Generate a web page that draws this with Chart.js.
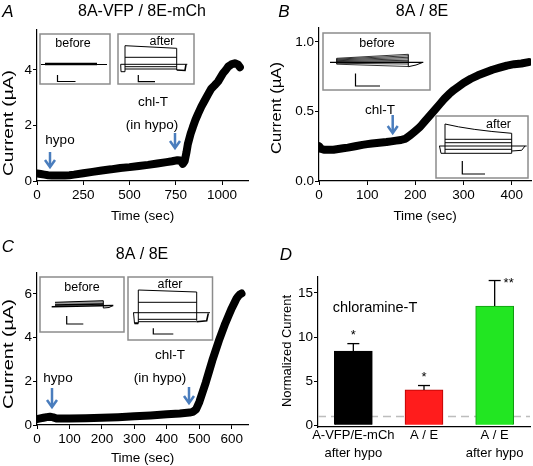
<!DOCTYPE html>
<html>
<head>
<meta charset="utf-8">
<script src="https://cdn.jsdelivr.net/npm/chart.js@4.4.1/dist/chart.umd.min.js"></script>
<style>
  html, body { margin: 0; padding: 0; background: #fff; }
  #wrap { position: relative; width: 533px; height: 466px; overflow: hidden; }
  canvas { position: absolute; }
</style>
</head>
<body>
<div id="wrap">
  <canvas id="cA" width="266" height="233" style="left:0;top:0"></canvas>
  <canvas id="cB" width="267" height="233" style="left:266px;top:0"></canvas>
  <canvas id="cC" width="266" height="233" style="left:0;top:233px"></canvas>
  <canvas id="cD" width="267" height="233" style="left:266px;top:233px"></canvas>
</div>
<script>
// ---- data ----
// A: 8A-VFP / 8E-mCh
const timeA = [0, 20, 40, 60, 80, 100, 125, 150, 175, 200, 250, 300, 350, 400, 450, 500, 550, 600, 650, 700, 730, 760, 775, 788, 798, 808, 815, 830, 842, 856, 870, 888, 906, 924, 942, 960, 978, 1005, 1020, 1033, 1050, 1069, 1085, 1096];
const currentA = [0.27, 0.25, 0.23, 0.21, 0.2, 0.2, 0.2, 0.2, 0.21, 0.23, 0.28, 0.33, 0.38, 0.42, 0.47, 0.5, 0.54, 0.58, 0.63, 0.68, 0.71, 0.75, 0.74, 0.62, 0.72, 1.05, 1.33, 1.7, 1.94, 2.2, 2.42, 2.68, 2.9, 3.12, 3.33, 3.45, 3.58, 3.88, 4.0, 4.12, 4.2, 4.24, 4.2, 4.1];

// B: 8A / 8E
const timeB = [0, 5, 10, 20, 30, 40, 50, 60, 75, 90, 100, 110, 125, 140, 150, 160, 170, 180, 190, 200, 210, 220, 230, 240, 250, 260, 270, 280, 290, 300, 315, 330, 345, 360, 375, 390, 405, 420, 435];
const currentB = [0.25, 0.23, 0.225, 0.225, 0.225, 0.23, 0.235, 0.24, 0.25, 0.26, 0.265, 0.27, 0.275, 0.28, 0.285, 0.29, 0.295, 0.305, 0.33, 0.36, 0.39, 0.43, 0.47, 0.51, 0.55, 0.59, 0.625, 0.655, 0.68, 0.705, 0.735, 0.76, 0.78, 0.8, 0.815, 0.83, 0.84, 0.845, 0.855];

// C: 8A / 8E (hypo first)
const timeC = [0, 10, 20, 30, 40, 50, 60, 80, 100, 150, 200, 250, 300, 350, 400, 440, 470, 480, 490, 500, 510, 520, 530, 540, 550, 560, 570, 580, 590, 600, 610, 615, 620, 625, 630];
const currentC = [0.27, 0.3, 0.33, 0.36, 0.38, 0.35, 0.3, 0.3, 0.3, 0.31, 0.33, 0.36, 0.4, 0.44, 0.49, 0.53, 0.57, 0.6, 0.72, 1.05, 1.5, 1.95, 2.45, 2.95, 3.4, 3.85, 4.25, 4.65, 5.0, 5.35, 5.65, 5.8, 5.9, 5.98, 6.02];

// D: chloramine-T summary
const groups = [["A-VFP/E-mCh", "after hypo"], ["A / E"], ["A / E", "after hypo"]];
const normCurrent = [8.4, 4.0, 13.5];
const normErr = [0.85, 0.5, 2.9];
const signif = ["*", "*", "**"];
const barColors = ["#000000", "#ff1c1c", "#22e622"];
const barEdges = ["#000000", "#b30000", "#119911"];

const FONT = "'Liberation Sans', Arial, Helvetica, sans-serif";
Chart.defaults.font.family = FONT;
Chart.defaults.color = "#000";
const BLUE = "#4a7dbd";

// ---- drawing helpers for insets / annotations (page coordinates) ----
function line(ctx, pts, lw, col) {
  ctx.beginPath();
  ctx.moveTo(pts[0][0], pts[0][1]);
  for (let i = 1; i < pts.length; i++) ctx.lineTo(pts[i][0], pts[i][1]);
  ctx.lineWidth = lw || 1;
  ctx.strokeStyle = col || "#000";
  ctx.stroke();
}
function box(ctx, x1, y1, x2, y2) {
  ctx.lineWidth = 1.5;
  ctx.strokeStyle = "#8c8c8c";
  ctx.strokeRect(x1, y1, x2 - x1, y2 - y1);
}
function text(ctx, s, x, y, size, style) {
  ctx.font = (style ? style + " " : "") + size + "px " + FONT;
  ctx.fillStyle = "#000";
  ctx.textAlign = "center";
  ctx.textBaseline = "middle";
  ctx.fillText(s, x, y);
}
function arrow(ctx, x, y1, y2) {
  ctx.lineCap = "butt";
  line(ctx, [[x, y1], [x, y2 - 1.5]], 2.5, BLUE);
  line(ctx, [[x - 5, y2 - 7], [x, y2], [x + 5, y2 - 7]], 2.5, BLUE);
}
function scaleBar(ctx, x, y1, y2, x2) {
  line(ctx, [[x, y1], [x, y2], [x2, y2]], 1.2);
}
function vTitle(ctx, s, cx, cy, size, len) {
  ctx.save();
  ctx.translate(cx, cy);
  ctx.rotate(-Math.PI / 2);
  ctx.font = size + "px " + FONT;
  const w = ctx.measureText(s).width;
  if (len) ctx.scale(len / w, 1);
  ctx.fillStyle = "#000";
  ctx.textAlign = "center";
  ctx.textBaseline = "middle";
  ctx.fillText(s, 0, 0);
  ctx.restore();
}

function decor(dx, dy, fn) {
  return {
    id: "decor",
    afterDraw(chart) {
      const ctx = chart.ctx;
      ctx.save();
      ctx.translate(-dx, -dy);
      fn(ctx, chart);
      ctx.restore();
    }
  };
}

function traceChart(id, times, values, o) {
  return new Chart(document.getElementById(id), {
    type: "line",
    data: {
      datasets: [{
        data: times.map((t, i) => ({ x: t, y: values[i] })),
        borderColor: "#000",
        borderWidth: 8,
        borderCapStyle: "round",
        borderJoinStyle: "round",
        pointRadius: 0,
        tension: 0
      }]
    },
    options: {
      responsive: false,
      animation: false,
      devicePixelRatio: 1,
      layout: { padding: o.pad },
      plugins: { legend: { display: false }, tooltip: { enabled: false } },
      scales: {
        x: {
          type: "linear", min: 0, max: o.xMax,
          ticks: { stepSize: o.xStep, includeBounds: false, autoSkip: false, maxRotation: 0, padding: 2, font: { size: 13.5 }, callback: v => String(v) },
          grid: { drawOnChartArea: false, tickLength: 4, tickColor: "#000" },
          border: { color: "#000", width: 1.2 },
          title: { display: true, text: "Time (sec)", font: { size: 13.5 }, padding: { top: 0, bottom: o.titlePad } },
          afterFit: s => { s.height = o.xH; }
        },
        y: {
          min: o.yMin, max: o.yMax,
          ticks: { stepSize: o.yStep, includeBounds: false, padding: 1, font: { size: 13.5 }, callback: o.yFmt || (v => String(v)) },
          grid: { drawOnChartArea: false, tickLength: 4, tickColor: "#000" },
          border: { color: "#000", width: 1.2 },
          afterFit: s => { s.width = o.yW; }
        }
      }
    },
    plugins: [decor(o.dx, o.dy, o.draw)]
  });
}

// ---- Panel A ----
traceChart("cA", timeA, currentA, {
  xMax: 1140, xStep: 250, yMin: 0, yMax: 5.44, yStep: 2,
  yW: 37, xH: 52, titlePad: 9, pad: { left: 0, right: 18, top: 30, bottom: 0 },
  dx: 0, dy: 0,
  draw(ctx) {
    text(ctx, "A", 8, 12, 17, "italic");
    text(ctx, "8A-VFP / 8E-mCh", 142, 12, 16);
    vTitle(ctx, "Current (\u00b5A)", 9, 123, 15, 106);
    // before inset
    box(ctx, 40, 34, 110, 84);
    text(ctx, "before", 73, 43.5, 12.5);
    line(ctx, [[41, 64.5], [107, 64.5]], 1);
    line(ctx, [[45, 64], [97, 64]], 2.5);
    scaleBar(ctx, 57.5, 75, 81.5, 75.5);
    // after inset
    box(ctx, 118, 34, 194, 84);
    text(ctx, "after", 162, 42, 12.5);
    line(ctx, [[125, 45.7], [176.7, 48.3], [176.7, 70]]);
    line(ctx, [[125, 45.7], [125, 71.7], [121, 71.7], [120.7, 64.3]]);
    line(ctx, [[125, 57.3], [176.7, 57.3]]);
    line(ctx, [[120.7, 64.3], [187.3, 64.3]]);
    line(ctx, [[125, 66.7], [176.7, 66.7]]);
    line(ctx, [[125, 69], [176.7, 69]]);
    line(ctx, [[176.7, 70], [185, 70.5], [186, 64.3]], 1.6);
    scaleBar(ctx, 138.3, 75, 81.7, 155);
    // annotations
    text(ctx, "hypo", 60, 140, 13.5);
    arrow(ctx, 50, 152, 167);
    text(ctx, "chl-T", 153, 102, 13.5);
    text(ctx, "(in hypo)", 152, 125, 13.5);
    arrow(ctx, 175, 133, 148);
  }
});

// ---- Panel B ----
traceChart("cB", timeB, currentB, {
  xMax: 440, xStep: 100, yMin: 0, yMax: 1.1, yStep: 0.5, yFmt: v => v.toFixed(1),
  yW: 53, xH: 52, titlePad: 9, pad: { left: 0, right: 2, top: 28, bottom: 0 },
  dx: 266, dy: 0,
  draw(ctx) {
    text(ctx, "B", 284, 12, 17, "italic");
    text(ctx, "8A / 8E", 422, 12, 16);
    vTitle(ctx, "Current (\u00b5A)", 277, 108, 15, 92);
    // before inset
    box(ctx, 323, 33, 430, 90);
    text(ctx, "before", 377, 43.5, 12.5);
    for (let k = 0; k < 6; k++) {
      line(ctx, [[336.7, 58.3 + k * 0.8], [408.3, 54.3 + k * 1.5]], 0.8);
    }
    line(ctx, [[330, 62.3], [423.3, 62.3]], 1.2);
    line(ctx, [[336.7, 63.3], [408.3, 64]], 0.8);
    line(ctx, [[336.7, 64.2], [408.3, 66.5]], 0.8);
    line(ctx, [[336.7, 58.3], [336.7, 64.2]]);
    line(ctx, [[408.3, 54.3], [408.3, 66.7], [416, 65], [423, 62.3]]);
    scaleBar(ctx, 355.5, 73.5, 86, 380);
    // after inset
    box(ctx, 436, 116, 528, 178);
    text(ctx, "after", 498.5, 125, 12.5);
    ctx.beginPath();
    ctx.moveTo(445, 124);
    ctx.quadraticCurveTo(470, 130, 511.7, 133.3);
    ctx.lineWidth = 1; ctx.strokeStyle = "#000"; ctx.stroke();
    line(ctx, [[445, 124], [445, 153.3], [441, 153.3], [439.5, 146]]);
    line(ctx, [[511.7, 133.3], [511.7, 153.3]]);
    line(ctx, [[445, 139.3], [511.7, 139.3]]);
    line(ctx, [[445, 142.7], [511.7, 142.7]]);
    line(ctx, [[439.3, 146], [526.7, 146]]);
    line(ctx, [[445, 149.3], [511.7, 149.3]]);
    line(ctx, [[445, 153.3], [511.7, 153.3]]);
    line(ctx, [[511.7, 151], [521.7, 150.3], [525, 146]]);
    scaleBar(ctx, 462.3, 161, 174, 485);
    // annotations
    text(ctx, "chl-T", 380, 110, 13.5);
    arrow(ctx, 392.7, 115, 133);
  }
});

// ---- Panel C ----
traceChart("cC", timeC, currentC, {
  xMax: 650, xStep: 100, yMin: 0, yMax: 6.96, yStep: 2,
  yW: 37, xH: 41, titlePad: 0, pad: { left: 0, right: 18, top: 40, bottom: 0 },
  dx: 0, dy: 233,
  draw(ctx) {
    text(ctx, "C", 8, 247, 17, "italic");
    text(ctx, "8A / 8E", 142, 255, 16);
    vTitle(ctx, "Current (\u00b5A)", 9, 354, 15, 110);
    // before inset
    box(ctx, 40, 277, 124, 332);
    text(ctx, "before", 82, 288, 12.5);
    ctx.beginPath();
    ctx.moveTo(55, 302.3); ctx.lineTo(103.3, 300.7); ctx.lineTo(103.3, 305.5); ctx.lineTo(55, 306.3);
    ctx.closePath(); ctx.fillStyle = "#9a9a9a"; ctx.fill();
    line(ctx, [[55, 302.3], [103.3, 300.7], [103.3, 308]]);
    line(ctx, [[51.7, 306.7], [113.3, 305.5]], 1.4);
    line(ctx, [[55, 305], [103.3, 304]], 1.4);
    line(ctx, [[103.3, 308], [109, 307.5], [113, 305.5]]);
    scaleBar(ctx, 66.7, 316, 324, 83.3);
    // after inset
    box(ctx, 128, 277, 212.5, 340);
    text(ctx, "after", 170, 285, 12.5);
    line(ctx, [[138.3, 290], [196.7, 292], [196.7, 320.7]]);
    line(ctx, [[138.3, 290], [138.3, 323.3], [134.5, 323.3], [133.5, 312.7]]);
    line(ctx, [[138.3, 302.3], [196.7, 302.3]]);
    line(ctx, [[133.3, 312.7], [210, 312.7]]);
    line(ctx, [[138.3, 319.3], [196.7, 319.3]]);
    line(ctx, [[138.3, 321.7], [196.7, 321.7]]);
    line(ctx, [[196.7, 321.7], [206.7, 320.7], [208.3, 313.3]], 1.6);
    line(ctx, [[134.5, 323.3], [138.3, 323.3]], 2);
    scaleBar(ctx, 153.3, 328.3, 334, 173.3);
    // annotations
    text(ctx, "hypo", 58, 378, 13.5);
    arrow(ctx, 52, 388, 407);
    text(ctx, "chl-T", 170, 355, 13.5);
    text(ctx, "(in hypo)", 160, 378, 13.5);
    arrow(ctx, 189, 387, 403);
  }
});

// ---- Panel D ----
new Chart(document.getElementById("cD"), {
  type: "bar",
  data: {
    labels: groups,
    datasets: [{
      data: normCurrent,
      backgroundColor: barColors,
      borderColor: barEdges,
      borderWidth: 1,
      barThickness: 38
    }]
  },
  options: {
    responsive: false,
    animation: false,
    devicePixelRatio: 1,
    layout: { padding: { left: 0, right: 3, top: 44, bottom: 0 } },
    plugins: { legend: { display: false }, tooltip: { enabled: false } },
    scales: {
      x: {
        ticks: { padding: -1, autoSkip: false, minRotation: 0, maxRotation: 0, font: { size: 13, lineHeight: 1.4 } },
        grid: { drawOnChartArea: false, drawTicks: false },
        border: { color: "#000", width: 1.2 },
        afterFit: s => { s.height = 39; }
      },
      y: {
        min: -0.2, max: 16.8,
        ticks: { stepSize: 5, includeBounds: false, padding: 1, font: { size: 13.5 } },
        grid: { drawOnChartArea: false, tickLength: 4, tickColor: "#000" },
        border: { color: "#000", width: 1.2 },
        afterFit: s => { s.width = 52; }
      }
    }
  },
  plugins: [
    {
      id: "refLine",
      beforeDatasetsDraw(chart) {
        const { ctx, chartArea, scales } = chart;
        const y = scales.y.getPixelForValue(1);
        ctx.save();
        ctx.setLineDash([8, 5]);
        ctx.strokeStyle = "#bdbdbd";
        ctx.lineWidth = 1.5;
        ctx.beginPath();
        ctx.moveTo(chartArea.left, y);
        ctx.lineTo(chartArea.right, y);
        ctx.stroke();
        ctx.restore();
      }
    },
    {
      id: "errBars",
      afterDatasetsDraw(chart) {
        const { ctx, scales } = chart;
        const bars = chart.getDatasetMeta(0).data;
        ctx.save();
        bars.forEach((b, i) => {
          const yv = scales.y.getPixelForValue(normCurrent[i]);
          const yt = scales.y.getPixelForValue(normCurrent[i] + normErr[i]);
          line(ctx, [[b.x, yv], [b.x, yt]], 1.3);
          line(ctx, [[b.x - 6, yt], [b.x + 6, yt]], 1.3);
          ctx.font = "13px " + FONT;
          ctx.fillStyle = "#000";
          ctx.textAlign = "center";
          ctx.textBaseline = "middle";
          if (signif[i] === "**") ctx.fillText(signif[i], b.x + 14, yt + 3);
          else ctx.fillText(signif[i], b.x, yt - 8);
        });
        ctx.restore();
      }
    },
    decor(266, 233, ctx => {
      text(ctx, "D", 286, 255, 17, "italic");
      vTitle(ctx, "Normalized Current", 287, 351, 13, 112);
      text(ctx, "chloramine-T", 375, 308, 14.5);
    })
  ]
});
</script>
</body>
</html>
